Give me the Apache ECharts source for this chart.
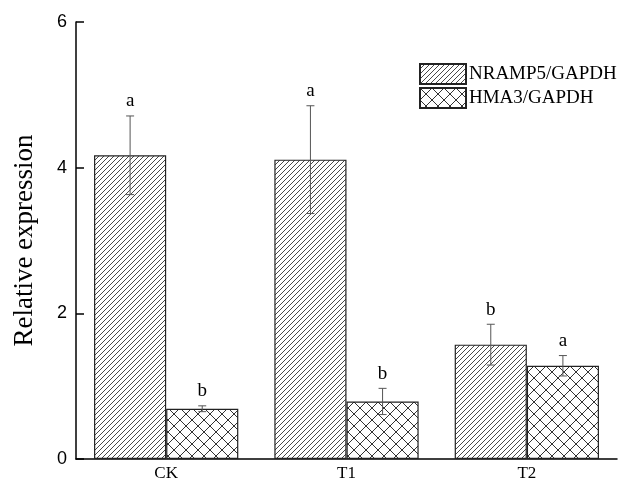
<!DOCTYPE html>
<html><head><meta charset="utf-8">
<script src="https://cdn.jsdelivr.net/npm/echarts@6/dist/echarts.min.js"></script>
<style>html,body{margin:0;padding:0;background:#fff}#c{width:630px;height:484px}</style>
</head><body><div id="c"></div>
<script>
var categories = ['CK', 'T1', 'T2'];
var seriesNames = ['NRAMP5/GAPDH', 'HMA3/GAPDH'];
var nrampValues = [4.17, 4.11, 1.57];
var nrampErrors = [0.54, 0.74, 0.28];
var nrampLetters = ['a', 'a', 'b'];
var hmaValues = [0.69, 0.79, 1.28];
var hmaErrors = [0.04, 0.18, 0.14];
var hmaLetters = ['b', 'b', 'a'];
var yTicks = [0, 2, 4, 6];

var SERIF = '"Liberation Serif", "Times New Roman", serif';
var SANS = '"Liberation Sans", Arial, sans-serif';

function hatchPattern() {
  var s = 5, c = document.createElement('canvas');
  c.width = s; c.height = s;
  var g = c.getContext('2d');
  g.fillStyle = '#fff'; g.fillRect(0, 0, s, s);
  g.strokeStyle = '#333'; g.lineWidth = 0.9;
  g.beginPath();
  g.moveTo(0, s); g.lineTo(s, 0);
  g.moveTo(-1, 1); g.lineTo(1, -1);
  g.moveTo(s - 1, s + 1); g.lineTo(s + 1, s - 1);
  g.stroke();
  return c;
}
function crossPattern() {
  var s = 12, c = document.createElement('canvas');
  c.width = s; c.height = s;
  var g = c.getContext('2d');
  g.fillStyle = '#fff'; g.fillRect(0, 0, s, s);
  g.strokeStyle = '#333'; g.lineWidth = 1;
  g.beginPath();
  g.moveTo(0, 0); g.lineTo(s, s);
  g.moveTo(0, s); g.lineTo(s, 0);
  g.stroke();
  return c;
}
var pat1 = {image: hatchPattern(), repeat: 'repeat'};
var pat2 = {image: crossPattern(), repeat: 'repeat'};

function errSeries(idx, vals, errs, letters) {
  var data = vals.map(function (v, i) { return [i, v, errs[i], letters[i]]; });
  return {
    type: 'custom', z: 10,
    data: data,
    renderItem: function (params, api) {
      var i = api.value(0), v = api.value(1), e = api.value(2);
      var base = api.coord([i, v]);
      var bw = api.size([1, 0])[0] * 0.4;
      var x = base[0] + (idx === 0 ? -bw / 2 : bw / 2);
      var top = api.coord([i, v + e])[1];
      var bot = api.coord([i, v - e])[1];
      var st = {stroke: '#555', lineWidth: 1};
      return {type: 'group', children: [
        {type: 'line', shape: {x1: x, y1: top, x2: x, y2: bot}, style: st},
        {type: 'line', shape: {x1: x - 4, y1: top, x2: x + 4, y2: top}, style: st},
        {type: 'line', shape: {x1: x - 4, y1: bot, x2: x + 4, y2: bot}, style: st},
        {type: 'text', style: {x: x, y: top - 5, text: data[params.dataIndex][3], textAlign: 'center', textVerticalAlign: 'bottom', fontFamily: SERIF, fontSize: 19, fill: '#000'}}
      ]};
    }
  };
}

var chart = echarts.init(document.getElementById('c'), null, {renderer: 'canvas'});
chart.setOption({
  animation: false,
  backgroundColor: '#fff',
  grid: {left: 76, right: 13, top: 22, bottom: 25, containLabel: false, outerBoundsMode: 'none'},
  legend: {
    data: seriesNames, orient: 'vertical', left: 419, top: 63, padding: 0,
    itemWidth: 46, itemHeight: 20, itemGap: 2, icon: 'rect',
    textStyle: {fontFamily: SERIF, fontSize: 19, color: '#000', padding: [0, 0, 0, -2]},
    selectedMode: false
  },
  xAxis: {
    type: 'category', data: categories,
    axisLine: {lineStyle: {color: '#000', width: 1.5}},
    axisTick: {show: false},
    axisLabel: {fontFamily: SERIF, fontSize: 17, color: '#000', margin: 6}
  },
  yAxis: {
    type: 'value', min: 0, max: 6, interval: 2,
    name: 'Relative expression', nameLocation: 'middle', nameGap: 38,
    nameTextStyle: {fontFamily: SERIF, fontSize: 27, color: '#000'},
    axisLine: {show: true, lineStyle: {color: '#000', width: 1.5}},
    axisTick: {show: true, inside: true, length: 8, lineStyle: {color: '#000', width: 1.5}},
    splitLine: {show: false},
    axisLabel: {fontFamily: SANS, fontSize: 18, color: '#000', margin: 9,
      formatter: function (v) { return yTicks.indexOf(v) >= 0 ? String(v) : ''; }}
  },
  series: [
    {name: seriesNames[0], type: 'bar', data: nrampValues, barWidth: '40%', barGap: '0%',
      itemStyle: {color: pat1, borderColor: '#222', borderWidth: 1.2}},
    {name: seriesNames[1], type: 'bar', data: hmaValues, barWidth: '40%', barGap: '0%',
      itemStyle: {color: pat2, borderColor: '#222', borderWidth: 1.2}},
    errSeries(0, nrampValues, nrampErrors, nrampLetters),
    errSeries(1, hmaValues, hmaErrors, hmaLetters)
  ]
});
</script>
</body></html>
